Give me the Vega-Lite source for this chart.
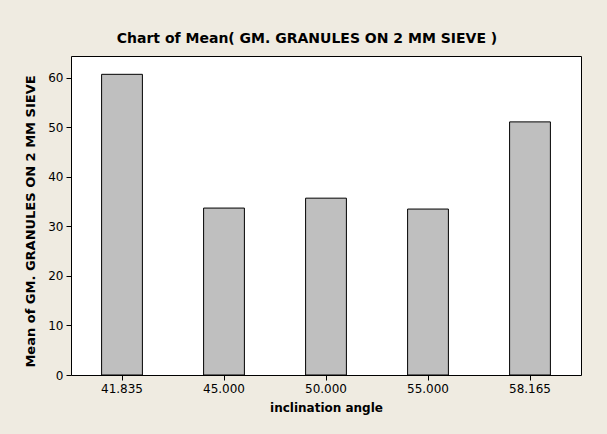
{
  "$schema": "https://vega.github.io/schema/vega-lite/v6.json",
  "autosize": "none",
  "width": 510,
  "height": 319,
  "padding": {"left": 71, "top": 56, "right": 26, "bottom": 59},
  "background": "#EFEBE1",
  "title": {
    "text": "Chart of Mean( GM. GRANULES ON 2 MM SIEVE )",
    "font": "DejaVu Sans",
    "fontSize": 14,
    "fontWeight": "bold",
    "color": "black",
    "anchor": "middle",
    "baseline": "alphabetic",
    "offset": 14,
    "dy": 15,
    "dx": -19
  },
  "data": {
    "values": [
      {"angle": "41.835", "mean": 60.7},
      {"angle": "45.000", "mean": 33.7},
      {"angle": "50.000", "mean": 35.7},
      {"angle": "55.000", "mean": 33.5},
      {"angle": "58.165", "mean": 51.1}
    ]
  },
  "mark": {"type": "bar", "fill": "#BFBFBF", "stroke": "black", "strokeWidth": 1},
  "encoding": {
    "x": {
      "field": "angle",
      "type": "ordinal",
      "sort": null,
      "scale": {"paddingInner": 0.6, "paddingOuter": 0.3},
      "axis": {
        "title": "inclination angle",
        "labelAngle": 0,
        "titlePadding": 8,
        "labelPadding": 3,
        "domain": false
      }
    },
    "y": {
      "field": "mean",
      "type": "quantitative",
      "scale": {"domain": [0, 64.4], "nice": false, "zero": true},
      "axis": {
        "title": "Mean of GM. GRANULES ON 2 MM SIEVE",
        "values": [0, 10, 20, 30, 40, 50, 60],
        "grid": false,
        "domain": false,
        "labelPadding": 3,
        "titlePadding": 10,
        "titleY": 165,
        "titleFontSize": 13
      }
    }
  },
  "config": {
    "view": {"fill": "white", "stroke": "black", "strokeWidth": 1},
    "axis": {
      "labelFont": "DejaVu Sans",
      "labelFontSize": 12,
      "labelColor": "black",
      "titleFont": "DejaVu Sans",
      "titleFontSize": 12,
      "titleFontWeight": "bold",
      "titleColor": "black",
      "tickColor": "black",
      "tickSize": 5,
      "tickWidth": 1
    }
  }
}
